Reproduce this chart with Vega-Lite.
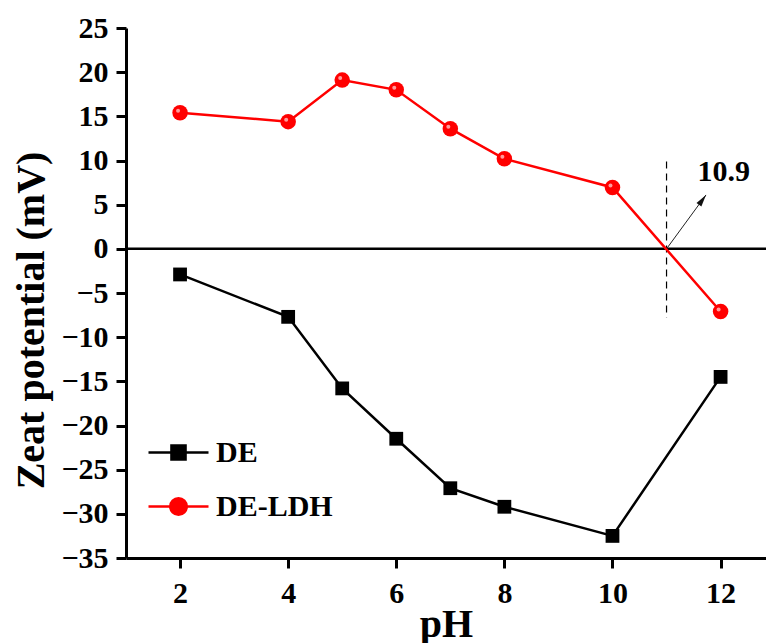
{
  "$schema": "https://vega.github.io/schema/vega-lite/v6.json",
  "width": 640,
  "height": 530,
  "autosize": {"type": "none"},
  "padding": {"left": 126, "top": 28, "right": 0, "bottom": 85},
  "background": "white",
  "config": {
    "view": {"stroke": null},
    "font": "Liberation Serif",
    "axis": {
      "grid": false,
      "domainColor": "black",
      "domainWidth": 3,
      "tickColor": "black",
      "tickWidth": 3,
      "tickSize": 10,
      "labelColor": "black",
      "labelFont": "Liberation Serif",
      "labelFontSize": 30,
      "labelFontWeight": "bold",
      "titleColor": "black",
      "titleFont": "Liberation Serif",
      "titleFontSize": 40,
      "titleFontWeight": "bold"
    }
  },
  "datasets": {
    "main": [
      {"pH": 2, "zeta": -2.9, "series": "DE"},
      {"pH": 4, "zeta": -7.7, "series": "DE"},
      {"pH": 5, "zeta": -15.8, "series": "DE"},
      {"pH": 6, "zeta": -21.5, "series": "DE"},
      {"pH": 7, "zeta": -27.1, "series": "DE"},
      {"pH": 8, "zeta": -29.2, "series": "DE"},
      {"pH": 10, "zeta": -32.5, "series": "DE"},
      {"pH": 12, "zeta": -14.5, "series": "DE"},
      {"pH": 2, "zeta": 15.4, "series": "DE-LDH"},
      {"pH": 4, "zeta": 14.4, "series": "DE-LDH"},
      {"pH": 5, "zeta": 19.1, "series": "DE-LDH"},
      {"pH": 6, "zeta": 18.0, "series": "DE-LDH"},
      {"pH": 7, "zeta": 13.6, "series": "DE-LDH"},
      {"pH": 8, "zeta": 10.2, "series": "DE-LDH"},
      {"pH": 10, "zeta": 6.95, "series": "DE-LDH"},
      {"pH": 12, "zeta": -7.1, "series": "DE-LDH"}
    ],
    "zero": [{"zeta": 0}],
    "guide": [{"pH": 11, "zeta": 9.9, "zeta2": -7.8}],
    "arrow": [{"pH": 11, "zeta": 0, "pH2": 11.73, "zeta2": 6.1}],
    "note": [{"pH": 12.06, "zeta": 8.7, "text": "10.9"}]
  },
  "layer": [
    {
      "data": {"name": "zero"},
      "mark": {"type": "rule", "color": "black", "strokeWidth": 2.5},
      "encoding": {
        "y": {"field": "zeta", "type": "quantitative", "title": "Zeat potential (mV)",
          "scale": {"domain": [-35, 25], "nice": false, "zero": false},
          "axis": {"values": [-35, -30, -25, -20, -15, -10, -5, 0, 5, 10, 15, 20, 25], "labelPadding": 8, "titleX": -83, "titleY": 292, "titleBaseline": "alphabetic", "titleAlign": "center", "titleAngle": -90}}
      }
    },
    {
      "data": {"name": "guide"},
      "mark": {"type": "rule", "color": "black", "strokeWidth": 1.2, "strokeDash": [7, 5]},
      "encoding": {
        "x": {"field": "pH", "type": "quantitative", "title": "pH",
          "scale": {"domain": [1, 12.84], "nice": false, "zero": false},
          "axis": {"values": [2, 4, 6, 8, 10, 12], "labelPadding": 10, "titleY": 78, "titleBaseline": "alphabetic"}},
        "y": {"field": "zeta", "type": "quantitative"},
        "y2": {"field": "zeta2"}
      }
    },
    {
      "data": {"name": "arrow"},
      "mark": {"type": "rule", "color": "#222222", "strokeWidth": 1},
      "encoding": {
        "x": {"field": "pH", "type": "quantitative"},
        "y": {"field": "zeta", "type": "quantitative"},
        "x2": {"field": "pH2"},
        "y2": {"field": "zeta2"}
      }
    },
    {
      "data": {"name": "arrow"},
      "mark": {"type": "point", "filled": true, "color": "#111111", "opacity": 1, "size": 400, "angle": 36, "shape": "M0,0L0.3,1.2L-0.3,1.2Z"},
      "encoding": {
        "x": {"field": "pH2", "type": "quantitative"},
        "y": {"field": "zeta2", "type": "quantitative"}
      }
    },
    {
      "data": {"name": "note"},
      "mark": {"type": "text", "font": "Liberation Serif", "fontSize": 30, "fontWeight": "bold", "color": "black", "align": "center", "baseline": "middle"},
      "encoding": {
        "x": {"field": "pH", "type": "quantitative"},
        "y": {"field": "zeta", "type": "quantitative"},
        "text": {"field": "text"}
      }
    },
    {
      "data": {"name": "main"},
      "mark": {"type": "line", "strokeWidth": 2.5, "opacity": 1},
      "encoding": {
        "x": {"field": "pH", "type": "quantitative"},
        "y": {"field": "zeta", "type": "quantitative"},
        "color": {"field": "series", "type": "nominal", "scale": {"domain": ["DE", "DE-LDH"], "range": ["#000000", "#ff0000"]}}
      }
    },
    {
      "data": {"name": "main"},
      "transform": [{"filter": "datum.series === 'DE'"}],
      "mark": {"type": "point", "shape": "square", "filled": true, "opacity": 1, "size": 190, "color": "#000000"},
      "encoding": {
        "x": {"field": "pH", "type": "quantitative"},
        "y": {"field": "zeta", "type": "quantitative"}
      }
    },
    {
      "data": {"name": "main"},
      "transform": [{"filter": "datum.series === 'DE-LDH'"}],
      "mark": {"type": "circle", "opacity": 1, "size": 240, "color": "#ff0000"},
      "encoding": {
        "x": {"field": "pH", "type": "quantitative"},
        "y": {"field": "zeta", "type": "quantitative"}
      }
    },
    {
      "data": {"name": "main"},
      "transform": [{"filter": "datum.series === 'DE-LDH'"}],
      "mark": {"type": "circle", "opacity": 0.75, "size": 16, "color": "#ffd0d0", "xOffset": -2, "yOffset": -2},
      "encoding": {
        "x": {"field": "pH", "type": "quantitative"},
        "y": {"field": "zeta", "type": "quantitative"}
      }
    },
    {
      "data": {"name": "main"},
      "transform": [{"filter": "datum.pH > 100"}],
      "mark": {"type": "point", "filled": true, "opacity": 1},
      "encoding": {
        "x": {"field": "pH", "type": "quantitative"},
        "y": {"field": "zeta", "type": "quantitative"},
        "color": {"field": "series", "type": "nominal"},
        "shape": {
          "field": "series",
          "type": "nominal",
          "scale": {"domain": ["DE", "DE-LDH"], "range": ["M-2,0L2,0M-0.47,-0.47L0.47,-0.47L0.47,0.47L-0.47,0.47Z", "M-2,0L2,0M-0.55,0A0.55,0.55,0,1,0,0.55,0A0.55,0.55,0,1,0,-0.55,0Z"]},
          "legend": {
            "orient": "none",
            "legendX": 36,
            "legendY": 408,
            "title": null,
            "labelFont": "Liberation Serif",
            "labelFontSize": 30,
            "labelFontWeight": "bold",
            "labelColor": "black",
            "labelOffset": 21,
            "symbolSize": 900,
            "symbolStrokeWidth": 2.5,
            "symbolOpacity": 1,
            "rowPadding": 22,
            "encode": {
              "symbols": {
                "update": {
                  "fill": {"scale": "color", "field": "value"},
                  "stroke": {"scale": "color", "field": "value"},
                  "opacity": {"value": 1},
                  "strokeWidth": {"value": 2.5}
                }
              }
            }
          }
        }
      }
    }
  ]
}
